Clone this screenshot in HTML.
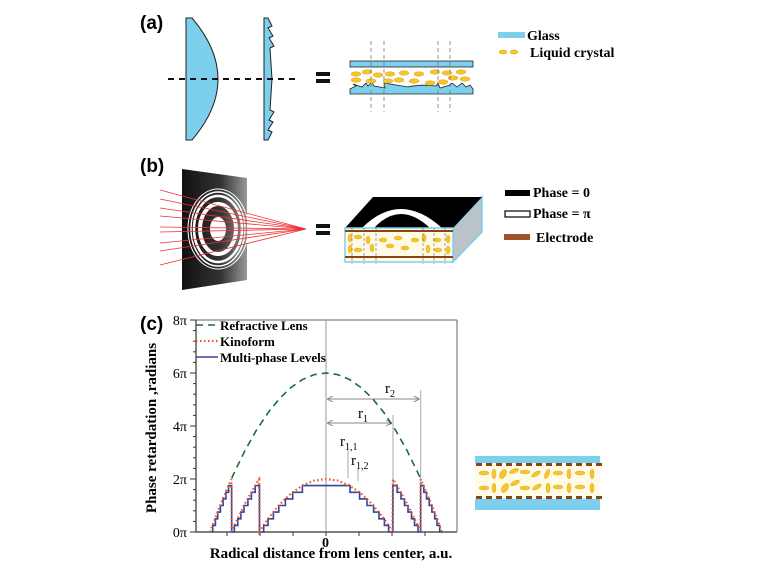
<!DOCTYPE html>
<html><head><meta charset="utf-8"><style>
body{margin:0;background:#fff;width:757px;height:568px;overflow:hidden}
svg{display:block;font-family:"Liberation Serif",serif}
.lab{font-family:"Liberation Sans","DejaVu Sans",sans-serif;font-weight:bold;font-size:19px}
.t{font-weight:bold;font-size:14px}
</style></head><body>
<svg id="fig" width="757" height="568" viewBox="0 0 757 568">
<defs>
<linearGradient id="plate" x1="0" x2="1"><stop offset="0" stop-color="#111"/><stop offset="0.6" stop-color="#333"/><stop offset="1" stop-color="#999"/></linearGradient>
<marker id="ah" markerWidth="6" markerHeight="6" refX="5" refY="3" orient="auto"><path d="M0,0L6,3L0,6" fill="none" stroke="#888" stroke-width="1"/></marker>
<marker id="ahs" markerWidth="6" markerHeight="6" refX="1" refY="3" orient="auto"><path d="M6,0L0,3L6,6" fill="none" stroke="#888" stroke-width="1"/></marker>
</defs>
<!-- panel a -->
<text class="lab" x="140" y="29">(a)</text>
<g>
<path d="M186,18 L192,18 Q244,79 192,140 L186,140 Z" fill="#7dcfee" stroke="#222" stroke-width="1"/>
</g>
<g>
<path d="M264,18 L268,18 L272,26 L268,28 L273,36 L269,38 L274,46 L270,48 L272,79 L270,110 L274,112 L269,120 L273,122 L268,130 L272,132 L268,140 L264,140 Z" fill="#7dcfee" stroke="#222" stroke-width="1"/>
</g>
<line x1="168" y1="79" x2="300" y2="79" stroke="#111" stroke-width="2" stroke-dasharray="6,5"/>
<g><rect x="316" y="72" width="14" height="4" fill="#111"/><rect x="316" y="79" width="14" height="4" fill="#111"/></g>
<g>
<rect x="350" y="61" width="123" height="6" fill="#7dcfee" stroke="#222" stroke-width="0.8"/>
<path d="M350,94 L350,89 L356,86 L353,84 L362,87 L366,83 L368,86 L372,82 L374,86 L385,88 L384,83 L408,87 Q420,84 436,86 L438,83 L440,88 L450,85 L452,83 L457,87 L462,83 L466,87 L470,85 L473,89 L473,94 Z" fill="#7dcfee" stroke="#222" stroke-width="0.8"/>
<g fill="#f7c531" stroke="#e0a000" stroke-width="0.5">
<ellipse cx="356" cy="74" rx="5" ry="2.2"/><ellipse cx="367" cy="72" rx="5" ry="2.2"/><ellipse cx="378" cy="75" rx="5" ry="2.2"/><ellipse cx="390" cy="74" rx="5" ry="2.2"/><ellipse cx="404" cy="73" rx="5" ry="2.2"/><ellipse cx="419" cy="74" rx="5" ry="2.2"/><ellipse cx="435" cy="72" rx="5" ry="2.2"/><ellipse cx="447" cy="73" rx="5" ry="2.2"/><ellipse cx="461" cy="72" rx="5" ry="2.2"/>
<ellipse cx="356" cy="80" rx="5" ry="2.2"/><ellipse cx="371" cy="81" rx="5" ry="2.2"/><ellipse cx="388" cy="81" rx="5" ry="2.2"/><ellipse cx="399" cy="80" rx="5" ry="2.2"/><ellipse cx="414" cy="81" rx="5" ry="2.2"/><ellipse cx="430" cy="83" rx="5" ry="2.2"/><ellipse cx="443" cy="82" rx="5" ry="2.2"/><ellipse cx="453" cy="78" rx="5" ry="2.2"/><ellipse cx="465" cy="79" rx="5" ry="2.2"/>
</g>
<g stroke="#777" stroke-width="0.8" stroke-dasharray="4,3"><line x1="371" y1="41" x2="371" y2="112"/><line x1="384" y1="41" x2="384" y2="112"/><line x1="438" y1="41" x2="438" y2="112"/><line x1="450" y1="41" x2="450" y2="112"/></g>
</g>
<g>
<rect x="498" y="32" width="27" height="6" fill="#7dcfee"/><text class="t" x="527" y="40">Glass</text>
<ellipse cx="503" cy="52" rx="4" ry="2" fill="#f7c531" stroke="#e0a000" stroke-width="0.5"/><ellipse cx="514" cy="52" rx="4" ry="2" fill="#f7c531" stroke="#e0a000" stroke-width="0.5"/><text class="t" x="530" y="57">Liquid crystal</text>
</g>
<!-- panel b -->
<text class="lab" x="140" y="172">(b)</text>
<g>
<polygon points="182,169 247,178 247,280 182,290" fill="url(#plate)"/>
<ellipse cx="218" cy="229" rx="30" ry="40" fill="none" stroke="#fff" stroke-width="1"/>
<ellipse cx="218" cy="229" rx="27" ry="37" fill="none" stroke="#fff" stroke-width="1.5"/>
<ellipse cx="218" cy="229" rx="24" ry="33" fill="none" stroke="#fff" stroke-width="2.5"/>
<ellipse cx="218" cy="229" rx="18" ry="25" fill="none" stroke="#fff" stroke-width="4"/>
<ellipse cx="218" cy="229" rx="8" ry="12" fill="#fff"/>
<g stroke="#e33" stroke-width="0.8" fill="none">
<line x1="160" y1="190" x2="306" y2="229"/><line x1="160" y1="199" x2="306" y2="229"/><line x1="160" y1="208" x2="306" y2="229"/><line x1="160" y1="216" x2="306" y2="229"/><line x1="160" y1="227" x2="306" y2="229"/><line x1="160" y1="232" x2="306" y2="229"/><line x1="160" y1="243" x2="306" y2="229"/><line x1="160" y1="251" x2="306" y2="229"/><line x1="160" y1="265" x2="306" y2="229"/>
</g>
</g>
<g><rect x="316" y="224" width="14" height="4" fill="#111"/><rect x="316" y="231" width="14" height="4" fill="#111"/></g>
<g>
<polygon points="453,228 482,197 482,232 453,262" fill="#b9c3c8" stroke="#7dcfee" stroke-width="1.5"/>
<polygon points="345,228 373,197 482,197 453,228" fill="#000"/>
<path d="M362,228 Q400,190 442,228 L430,228 Q400,200 374,228 Z" fill="#fff"/>
<rect x="345" y="228" width="108" height="34" fill="#fffbe6" stroke="#7dcfee" stroke-width="1.5"/>
<rect x="345" y="230" width="108" height="2" fill="#8b4513"/><rect x="345" y="256" width="108" height="2" fill="#8b4513"/>
<g fill="#f7c531" stroke="#e0a000" stroke-width="0.4">
<ellipse cx="350" cy="238" rx="2" ry="4"/><ellipse cx="350" cy="249" rx="2" ry="4"/><ellipse cx="358" cy="237" rx="4" ry="2"/><ellipse cx="358" cy="250" rx="4" ry="2"/><ellipse cx="368" cy="240" rx="2" ry="4"/><ellipse cx="372" cy="248" rx="2" ry="4"/><ellipse cx="383" cy="240" rx="4" ry="2"/><ellipse cx="390" cy="246" rx="4" ry="2"/><ellipse cx="398" cy="238" rx="4" ry="2"/><ellipse cx="405" cy="248" rx="4" ry="2"/><ellipse cx="415" cy="240" rx="4" ry="2"/><ellipse cx="424" cy="238" rx="2" ry="4"/><ellipse cx="428" cy="249" rx="2" ry="4"/><ellipse cx="437" cy="240" rx="4" ry="2"/><ellipse cx="438" cy="250" rx="4" ry="2"/><ellipse cx="448" cy="239" rx="2" ry="4"/><ellipse cx="448" cy="250" rx="2" ry="4"/>
</g>
<g stroke="#666" stroke-width="0.6" stroke-dasharray="3,2"><line x1="352" y1="228" x2="352" y2="264"/><line x1="364" y1="228" x2="364" y2="264"/><line x1="376" y1="228" x2="376" y2="264"/><line x1="423" y1="228" x2="423" y2="264"/><line x1="434" y1="228" x2="434" y2="264"/><line x1="445" y1="228" x2="445" y2="264"/></g>
</g>
<g>
<rect x="505" y="190" width="25" height="6" fill="#000"/><text class="t" x="533" y="197">Phase = 0</text>
<rect x="505" y="211" width="25" height="6" fill="#fff" stroke="#000" stroke-width="1.2"/><text class="t" x="533" y="218">Phase = π</text>
<rect x="504" y="234" width="26" height="6" fill="#a0522d"/><text class="t" x="536" y="242">Electrode</text>
</g>
<!-- panel c -->
<text class="lab" x="140" y="330">(c)</text>
<g id="chart"></g>
<g>
<rect x="475" y="456" width="125" height="7" fill="#7dcfee"/>
<rect x="475" y="463" width="125" height="33" fill="#fffbe6"/>
<rect x="475" y="499" width="125" height="11" fill="#7dcfee"/>
<g id="elec"></g>
<g fill="#f7c531" stroke="#e0a000" stroke-width="0.4">
<ellipse cx="484" cy="473" rx="5" ry="2"/><ellipse cx="484" cy="488" rx="5" ry="2"/><ellipse cx="494" cy="474" rx="2" ry="5"/><ellipse cx="494" cy="488" rx="2" ry="5"/><ellipse cx="503" cy="474" rx="3" ry="5" transform="rotate(30 503 474)"/><ellipse cx="505" cy="488" rx="3" ry="5" transform="rotate(30 505 488)"/><ellipse cx="514" cy="471" rx="5" ry="2" transform="rotate(-20 514 471)"/><ellipse cx="515" cy="483" rx="5" ry="2" transform="rotate(-25 515 483)"/><ellipse cx="525" cy="472" rx="5" ry="2"/><ellipse cx="525" cy="488" rx="5" ry="2"/><ellipse cx="536" cy="474" rx="5" ry="2" transform="rotate(-30 536 474)"/><ellipse cx="537" cy="487" rx="5" ry="2" transform="rotate(-30 537 487)"/><ellipse cx="547" cy="474" rx="2" ry="5" transform="rotate(20 547 474)"/><ellipse cx="548" cy="488" rx="2" ry="5"/><ellipse cx="558" cy="473" rx="5" ry="2"/><ellipse cx="558" cy="487" rx="5" ry="2"/><ellipse cx="569" cy="474" rx="2" ry="5"/><ellipse cx="569" cy="488" rx="2" ry="5"/><ellipse cx="580" cy="473" rx="5" ry="2"/><ellipse cx="580" cy="487" rx="5" ry="2"/><ellipse cx="592" cy="474" rx="2" ry="5"/><ellipse cx="592" cy="488" rx="2" ry="5"/>
</g>
</g>
</svg>
<script>
// Lens phase (units of π) sampled at normalized radius
const radii = [-1,-0.9,-0.8,-0.7,-0.6,-0.5,-0.4,-0.3,-0.2,-0.1,0,0.1,0.2,0.3,0.4,0.5,0.6,0.7,0.8,0.9,1];
const lensPhase = [0,1.14,2.16,3.06,3.84,4.5,5.04,5.46,5.76,5.94,6,5.94,5.76,5.46,5.04,4.5,3.84,3.06,2.16,1.14,0];
const yTicks = [0,2,4,6,8];
const yTickLabels = ["0π","2π","4π","6π","8π"];
const levelCount = [8];

const NS="http://www.w3.org/2000/svg";
const chart=document.getElementById('chart');
const X0=196,X1=457,Y0=532,Y1=320,CX=326,R=116;
const xs=r=>CX+r*R;
const ys=v=>Y0-(v/8)*(Y0-Y1);
function mk(tag,attrs,parent){const e=document.createElementNS(NS,tag);for(const k in attrs)e.setAttribute(k,attrs[k]);(parent||chart).appendChild(e);return e;}
function lens(r){
  if(r<=radii[0])return lensPhase[0]; if(r>=radii[radii.length-1])return lensPhase[lensPhase.length-1];
  for(let i=0;i<radii.length-1;i++){if(r>=radii[i]&&r<=radii[i+1]){const t=(r-radii[i])/(radii[i+1]-radii[i]);return lensPhase[i]+t*(lensPhase[i+1]-lensPhase[i]);}}
}
let e=mk('line',{x1:X0,y1:Y1,x2:X0,y2:Y0,stroke:'#333','stroke-width':1.2});

e=mk('line',{x1:X0,y1:Y0,x2:X1,y2:Y0,stroke:'#333','stroke-width':1.2});

mk('line',{x1:X1,y1:Y1,x2:X1,y2:Y0,stroke:'#666','stroke-width':1});
mk('line',{x1:X0,y1:Y1,x2:X1,y2:Y1,stroke:'#666','stroke-width':1});
for(let v=0;v<=8.001;v+=0.4){mk('line',{x1:X0-3,y1:ys(v),x2:X0,y2:ys(v),stroke:'#333','stroke-width':1});}
yTicks.forEach((v,i)=>{
  mk('line',{x1:X0-6,y1:ys(v),x2:X0,y2:ys(v),stroke:'#333','stroke-width':1});
  const t=mk('text',{x:X0-9,y:ys(v)+5,'text-anchor':'end','font-size':14});t.textContent=yTickLabels[i];
  
});
for(let x=CX-4*33;x<=X1;x+=33){if(x>X0)mk('line',{x1:x,y1:Y0,x2:x,y2:Y0+4,stroke:'#333','stroke-width':1});}
e=mk('text',{x:CX-4,y:Y0+15,'font-size':14,'font-weight':'bold'});e.textContent='0';

e=mk('text',{x:331,y:558,'text-anchor':'middle','font-size':15,'font-weight':'bold'});e.textContent='Radical distance from lens center, a.u.';

e=mk('text',{x:0,y:0,'text-anchor':'middle','font-size':15,'font-weight':'bold',transform:'translate(156,428) rotate(-90)'});e.textContent='Phase retardation ,radians';

mk('line',{x1:CX,y1:Y1,x2:CX,y2:Y0,stroke:'#999','stroke-width':1});
const r1=xs(Math.sqrt(1/3)),r2=xs(Math.sqrt(2/3));
mk('line',{x1:r1,y1:415,x2:r1,y2:Y0,stroke:'#aaa','stroke-width':1});
mk('line',{x1:r2,y1:390,x2:r2,y2:Y0,stroke:'#aaa','stroke-width':1});
mk('line',{x1:CX+2,y1:423,x2:r1-2,y2:423,stroke:'#888','stroke-width':1,'marker-end':'url(#ah)','marker-start':'url(#ahs)'});
mk('line',{x1:CX+2,y1:399,x2:r2-2,y2:399,stroke:'#888','stroke-width':1,'marker-end':'url(#ah)','marker-start':'url(#ahs)'});
function lbl(x,y,main,sub,name){const t=mk('text',{x:x,y:y,'font-size':15});t.textContent=main;const s=mk('tspan',{'font-size':10,dy:4},t);s.textContent=sub;
}
lbl(385,393,'r','2','label-r2');lbl(358,418,'r','1','label-r1');lbl(340,446,'r','1,1','label-r11');lbl(351,465,'r','1,2','label-r12');
mk('line',{x1:348,y1:450,x2:348,y2:478,stroke:'#aaa','stroke-width':1});
mk('line',{x1:358,y1:469,x2:358,y2:481,stroke:'#aaa','stroke-width':1});
let dL='',dK='',dM='';const N=600;let prevM=null;
for(let i=0;i<=N;i++){
  const r=-1+2*i/N,p=lens(r),x=xs(r);
  if(p>=2){dL+=(dL&&lens(r-2/N)>=2?'L':'M')+x.toFixed(1)+','+ys(p).toFixed(1);}
  let k=p%2; if(p>=6)k=2; if(p===0)k=0;
  const lv=Math.floor(k*levelCount[0]/2)*2/levelCount[0];
  const m=Math.min(lv,2-2/levelCount[0]);
  dK+=(i?'L':'M')+x.toFixed(1)+','+ys(k).toFixed(1);
  if(prevM===null)dM+='M'+x.toFixed(1)+','+ys(m).toFixed(1);
  else if(m!==prevM)dM+='L'+x.toFixed(1)+','+ys(prevM).toFixed(1)+'L'+x.toFixed(1)+','+ys(m).toFixed(1);
  prevM=m;
}
dM+='L'+xs(1).toFixed(1)+','+ys(prevM).toFixed(1);
e=mk('path',{d:dM,fill:'none',stroke:'#334499','stroke-width':1.6});

e=mk('path',{d:dK,fill:'none',stroke:'#e8552a','stroke-width':2.2,'stroke-dasharray':'1.5,2.5'});

e=mk('path',{d:dL,fill:'none',stroke:'#1f6b3a','stroke-width':1.6,'stroke-dasharray':'7,5'});

const lg=[['Refractive Lens','#1f6b3a','7,5',330],['Kinoform','#e8552a','1.5,2.5',346],['Multi-phase Levels','#334499','',362]];
lg.forEach(l=>{const g=mk('g',{});
mk('line',{x1:196,y1:l[3]-5,x2:218,y2:l[3]-5,stroke:l[1],'stroke-width':l[2]==='1.5,2.5'?2.2:1.6,'stroke-dasharray':l[2]},g);
const t=mk('text',{x:220,y:l[3],'font-size':13,'font-weight':'bold'},g);t.textContent=l[0];});
const el=document.getElementById('elec');
for(let x=476;x<598;x+=10){mk('rect',{x:x,y:463,width:6,height:3,fill:'#8b4513'},el);mk('rect',{x:x,y:496,width:6,height:3,fill:'#8b4513'},el);}
</script>
</body></html>
